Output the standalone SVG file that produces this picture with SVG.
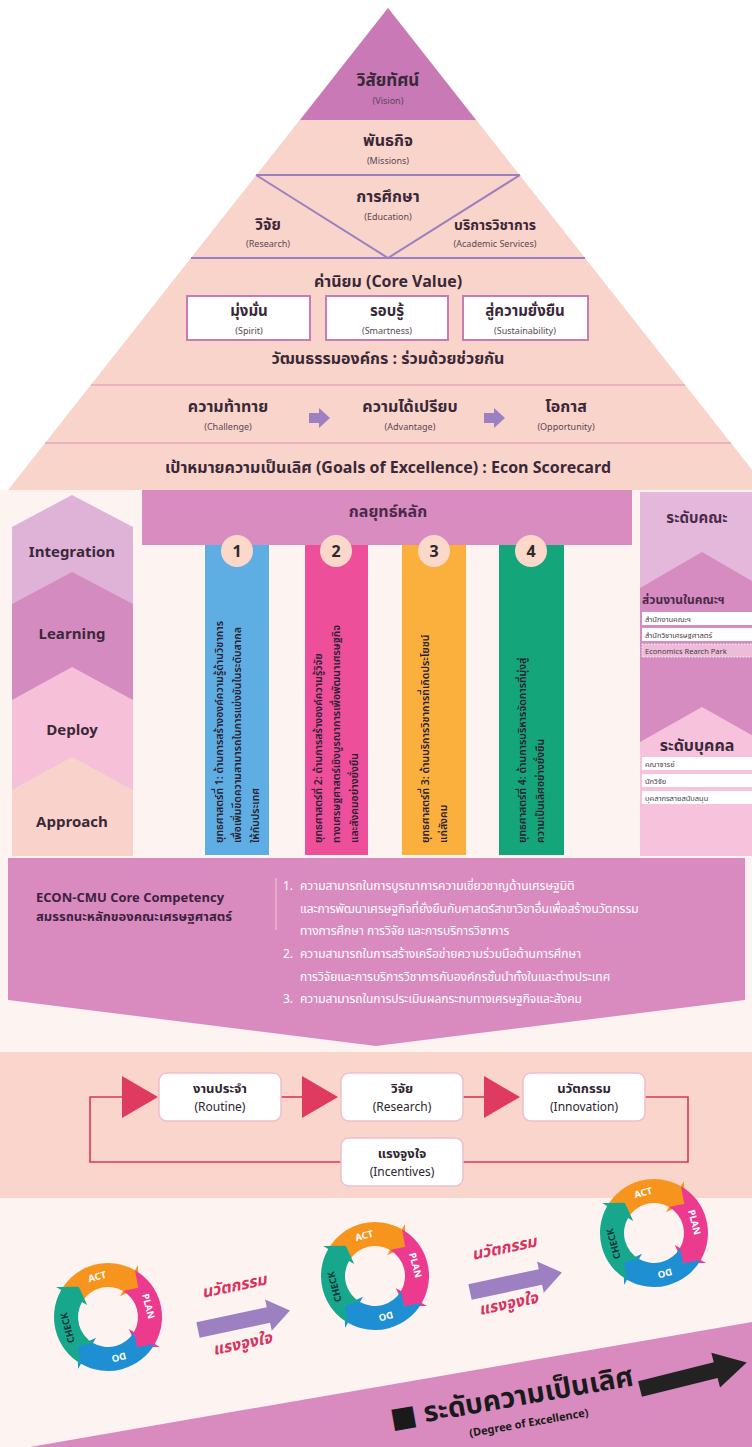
<svg xmlns="http://www.w3.org/2000/svg" width="752" height="1447" viewBox="0 0 752 1447">
<style>
text{font-family:"Noto Sans Thai","Noto Sans","DejaVu Sans",sans-serif;}
.m{text-anchor:middle;}
.b{font-weight:700;}
.dk{fill:#3a2838;}
.sub{font-size:9px;fill:#5a4656;text-anchor:middle;}
.vt{font-size:10.5px;fill:#2a2030;font-weight:600;}
.row{fill:#ffffff;}
.rt{font-size:7.5px;fill:#4a3a48;}
.cc{font-size:12px;fill:#ffffff;}
.rl{fill:none;stroke:#d8375c;stroke-width:1.6;}
.box{fill:#ffffff;stroke:#ecc0cc;stroke-width:1.5;}
.bt{font-size:13px;fill:#2e2530;font-weight:700;text-anchor:middle;}
.be{font-size:12px;fill:#2e2530;text-anchor:middle;}
.pl{font-size:9.5px;font-weight:700;text-anchor:middle;dominant-baseline:central;font-family:"Noto Sans",sans-serif;}
.inn{font-size:16px;font-weight:700;font-style:italic;fill:#d8325e;}
</style>
<defs>
<g id="ring">
<path d="M-46.77,-27 A54,54 0 0 1 27,-46.77 L30,-51.96 L30.21,-29.18 L12,-20.78 L15,-25.98 A30,30 0 0 0 -25.98,-15 L-29.18,-30.21 Z" fill="#f7941e"/>
<path d="M27,-46.77 A54,54 0 0 1 46.77,27 L51.96,30 L29.18,30.21 L20.78,12 L25.98,15 A30,30 0 0 0 15,-25.98 L30.21,-29.18 Z" fill="#ec3a8f"/>
<path d="M46.77,27 A54,54 0 0 1 -27,46.77 L-30,51.96 L-30.21,29.18 L-12,20.78 L-15,25.98 A30,30 0 0 0 25.98,15 L29.18,30.21 Z" fill="#1f8fd3"/>
<path d="M-27,46.77 A54,54 0 0 1 -46.77,-27 L-51.96,-30 L-29.18,-30.21 L-20.78,-12 L-25.98,-15 A30,30 0 0 0 -15,25.98 L-30.21,29.18 Z" fill="#17a78c"/>
<text class="pl" fill="#ffffff" transform="translate(-10.87,-40.57) rotate(-15)">ACT</text>
<text class="pl" fill="#ffffff" transform="translate(40.57,-10.87) rotate(75)">PLAN</text>
<text class="pl" fill="#ffffff" transform="translate(10.87,40.57) rotate(165)">DO</text>
<text class="pl" fill="#16363a" transform="translate(-40.57,10.87) rotate(255)">CHECK</text>
</g>
<path id="parrow" d="M0,-8 H72 V-16 L94,0 L72,16 V8 H0 Z" fill="#9c80c2"/>
</defs>

<!-- backgrounds -->
<rect x="0" y="0" width="752" height="1447" fill="#fdf4f2"/>
<rect x="0" y="0" width="752" height="490" fill="#ffffff"/>
<rect x="0" y="1052" width="752" height="146" fill="#fad5cc"/>

<!-- pyramid -->
<g id="pyramid">
<polygon points="388,8 8,490 768,490" fill="#f9d4ca"/>
<polygon points="388,8 300,120 476,120" fill="#c97ab6"/>
<line x1="256" y1="175" x2="520" y2="175" stroke="#9a80c0" stroke-width="2"/>
<polyline points="256,175 388,258 520,175" fill="none" stroke="#9a80c0" stroke-width="2"/>
<line x1="191" y1="258" x2="585" y2="258" stroke="#9a80c0" stroke-width="2"/>
<line x1="91" y1="385" x2="685" y2="385" stroke="#e9b4be" stroke-width="2"/>
<line x1="45" y1="443" x2="731" y2="443" stroke="#e9b4be" stroke-width="2"/>
</g>
<g id="vision">
<text x="388" y="86" class="m b dk" font-size="17">วิสัยทัศน์</text>
<text x="388" y="104" class="sub">(Vision)</text>
</g>
<g id="missions">
<text x="388" y="146" class="m b dk" font-size="16">พันธกิจ</text>
<text x="388" y="164" class="sub">(Missions)</text>
</g>
<g id="education">
<text x="388" y="202" class="m b dk" font-size="16">การศึกษา</text>
<text x="388" y="220" class="sub">(Education)</text>
</g>
<g id="research">
<text x="268" y="230" class="m b dk" font-size="15">วิจัย</text>
<text x="268" y="247" class="sub">(Research)</text>
</g>
<g id="services">
<text x="495" y="230" class="m b dk" font-size="14">บริการวิชาการ</text>
<text x="495" y="247" class="sub">(Academic Services)</text>
</g>
<g id="core-value">
<text x="388" y="287" class="m b dk" font-size="16">ค่านิยม (Core Value)</text>
<rect x="187" y="296" width="123" height="44" fill="#ffffff" stroke="#c77cb6" stroke-width="2"/>
<rect x="326" y="296" width="122" height="44" fill="#ffffff" stroke="#c77cb6" stroke-width="2"/>
<rect x="463" y="296" width="125" height="44" fill="#ffffff" stroke="#c77cb6" stroke-width="2"/>
<text x="249" y="316" class="m b dk" font-size="15">มุ่งมั่น</text>
<text x="249" y="334" class="sub">(Spirit)</text>
<text x="387" y="316" class="m b dk" font-size="15">รอบรู้</text>
<text x="387" y="334" class="sub">(Smartness)</text>
<text x="525" y="316" class="m b dk" font-size="15">สู่ความยั่งยืน</text>
<text x="525" y="334" class="sub">(Sustainability)</text>
<text x="388" y="364" class="m b dk" font-size="16">วัฒนธรรมองค์กร : ร่วมด้วยช่วยกัน</text>
</g>
<g id="challenge">
<text x="228" y="412" class="m b dk" font-size="16">ความท้าทาย</text>
<text x="228" y="430" class="sub">(Challenge)</text>
<text x="410" y="412" class="m b dk" font-size="16">ความได้เปรียบ</text>
<text x="410" y="430" class="sub">(Advantage)</text>
<text x="566" y="412" class="m b dk" font-size="16">โอกาส</text>
<text x="566" y="430" class="sub">(Opportunity)</text>
<path d="M309,413 H319 V408 L330,418 L319,428 V423 H309 Z" fill="#9c80c2"/>
<path d="M484,413 H494 V408 L505,418 L494,428 V423 H484 Z" fill="#9c80c2"/>
</g>
<g id="goals">
<text x="388" y="473" class="m b dk" font-size="16">เป้าหมายความเป็นเลิศ (Goals of Excellence) : Econ Scorecard</text>
</g>

<!-- left ADLI chevrons -->
<g id="adli">
<polygon points="12,527 72,495 133,527 133,856 12,856" fill="#dfb3d8"/>
<polygon points="12,604 72,572 133,604 133,856 12,856" fill="#d48bc0"/>
<polygon points="12,700 72,667 133,700 133,856 12,856" fill="#f6c0d9"/>
<polygon points="12,790 72,757 133,790 133,856 12,856" fill="#f9d3cb"/>
<text x="72" y="557" class="m b dk" font-size="15">Integration</text>
<text x="72" y="639" class="m b dk" font-size="15">Learning</text>
<text x="72" y="735" class="m b dk" font-size="15">Deploy</text>
<text x="72" y="827" class="m b dk" font-size="15">Approach</text>
</g>

<!-- strategy header -->
<g id="strategy-header">
<rect x="142" y="490" width="490" height="55" fill="#d88cbf"/>
<text x="388" y="517" class="m b" font-size="16" fill="#4a2a4a">กลยุทธ์หลัก</text>
</g>
<g id="strategy-1">
<rect x="205" y="545" width="64" height="310" fill="#5faee3"/>
<circle cx="237" cy="551" r="16" fill="#fbd8ca"/>
<text x="237" y="557" class="m b" font-size="16" fill="#2a2a2a">1</text>
<text class="vt" transform="translate(222.5,843) rotate(-90)">ยุทธศาสตร์ที่ 1: ด้านการสร้างองค์ความรู้ด้านวิชาการ</text>
<text class="vt" transform="translate(240.5,843) rotate(-90)">เพื่อเพิ่มขีดความสามารถในการแข่งขันในระดับสากล</text>
<text class="vt" transform="translate(258.5,843) rotate(-90)">ให้กับประเทศ</text>
</g>
<g id="strategy-2">
<rect x="305" y="545" width="63" height="310" fill="#ee4f9b"/>
<circle cx="336" cy="551" r="16" fill="#fbd8ca"/>
<text x="336" y="557" class="m b" font-size="16" fill="#2a2a2a">2</text>
<text class="vt" transform="translate(322,843) rotate(-90)">ยุทธศาสตร์ที่ 2: ด้านการสร้างองค์ความรู้วิจัย</text>
<text class="vt" transform="translate(340,843) rotate(-90)">ทางเศรษฐศาสตร์เชิงบูรณาการเพื่อพัฒนาเศรษฐกิจ</text>
<text class="vt" transform="translate(358,843) rotate(-90)">และสังคมอย่างยั่งยืน</text>
</g>
<g id="strategy-3">
<rect x="402" y="545" width="64" height="310" fill="#fbb03e"/>
<circle cx="434" cy="551" r="16" fill="#fbd8ca"/>
<text x="434" y="557" class="m b" font-size="16" fill="#2a2a2a">3</text>
<text class="vt" transform="translate(428.5,843) rotate(-90)">ยุทธศาสตร์ที่ 3: ด้านบริการวิชาการที่เกิดประโยชน์</text>
<text class="vt" transform="translate(446.5,843) rotate(-90)">แก่สังคม</text>
</g>
<g id="strategy-4">
<rect x="499" y="545" width="65" height="310" fill="#14a57b"/>
<circle cx="531" cy="551" r="16" fill="#fbd8ca"/>
<text x="531" y="557" class="m b" font-size="16" fill="#2a2a2a">4</text>
<text class="vt" transform="translate(526,843) rotate(-90)">ยุทธศาสตร์ที่ 4: ด้านการบริหารจัดการที่มุ่งสู่</text>
<text class="vt" transform="translate(544,843) rotate(-90)">ความเป็นเลิศอย่างยั่งยืน</text>
</g>

<!-- right panel -->
<g id="levels">
<rect x="640" y="492" width="112" height="364" fill="#e4b8da"/>
<polygon points="640,588 702,552 764,588 764,856 640,856" fill="#d68cc0"/>
<polygon points="640,742 702,707 764,742 764,856 640,856" fill="#f6c2dc"/>
<text x="697" y="523" class="m b" font-size="15" fill="#4a2a4a">ระดับคณะ</text>
<text x="642" y="604" class="b" font-size="12" fill="#4a2a4a">ส่วนงานในคณะฯ</text>
<rect x="642" y="612" width="112" height="13" class="row"/>
<text x="645" y="621.5" class="rt">สำนักงานคณะฯ</text>
<rect x="642" y="628" width="112" height="13" class="row"/>
<text x="645" y="637.5" class="rt">สำนักวิชาเศรษฐศาสตร์</text>
<rect x="642" y="644" width="112" height="13" fill="#edbcd8" stroke="#ffffff" stroke-width="0.8" stroke-dasharray="1.5,1.5"/>
<text x="645" y="653.5" class="rt">Economics Rearch Park</text>
<text x="697" y="751" class="m b" font-size="16" fill="#3a2838">ระดับบุคคล</text>
<rect x="642" y="757" width="112" height="13" class="row"/>
<text x="645" y="766.5" class="rt">คณาจารย์</text>
<rect x="642" y="774" width="112" height="13" class="row"/>
<text x="645" y="783.5" class="rt">นักวิจัย</text>
<rect x="642" y="791" width="112" height="13" class="row"/>
<text x="645" y="800.5" class="rt">บุคลากรสายสนับสนุน</text>
</g>

<!-- core competency -->
<g id="core-competency">
<polygon points="8,858 745,858 745,1000 376,1046 8,1000" fill="#d98bbf"/>
<text x="36" y="902" class="b" font-size="13" fill="#3d2240">ECON-CMU Core Competency</text>
<text x="36" y="921" class="b" font-size="13" fill="#3d2240">สมรรถนะหลักของคณะเศรษฐศาสตร์</text>
<line x1="276" y1="878" x2="276" y2="930" stroke="#f0cfe2" stroke-width="1"/>
<text x="283" y="890" class="cc">1.</text>
<text x="300" y="890" class="cc">ความสามารถในการบูรณาการความเชี่ยวชาญด้านเศรษฐมิติ</text>
<text x="300" y="913" class="cc">และการพัฒนาเศรษฐกิจที่ยั่งยืนกับศาสตร์สาขาวิชาอื่นเพื่อสร้างนวัตกรรม</text>
<text x="300" y="935" class="cc">ทางการศึกษา การวิจัย และการบริการวิชาการ</text>
<text x="283" y="958" class="cc">2.</text>
<text x="300" y="958" class="cc">ความสามารถในการสร้างเครือข่ายความร่วมมือด้านการศึกษา</text>
<text x="300" y="981" class="cc">การวิจัยและการบริการวิชาการกับองค์กรชั้นนำทั้งในและต่างประเทศ</text>
<text x="283" y="1003" class="cc">3.</text>
<text x="300" y="1003" class="cc">ความสามารถในการประเมินผลกระทบทางเศรษฐกิจและสังคม</text>
</g>

<!-- routine cycle connectors -->
<g id="connectors">
<path class="rl" d="M281,1097 H302"/>
<path class="rl" d="M463,1097 H484"/>
<path class="rl" d="M645,1097 H688 V1162 H463"/>
<path class="rl" d="M341,1162 H90 V1097 H122"/>
<polygon points="122,1076 158,1097 122,1118" fill="#df3a5f"/>
<polygon points="302,1076 338,1097 302,1118" fill="#df3a5f"/>
<polygon points="484,1076 520,1097 484,1118" fill="#df3a5f"/>
</g>
<g id="routine">
<rect x="159" y="1073" width="122" height="48" rx="8" class="box"/>
<text x="220" y="1093" class="bt">งานประจำ</text>
<text x="220" y="1111" class="be">(Routine)</text>
</g>
<g id="research-node">
<rect x="341" y="1073" width="122" height="48" rx="8" class="box"/>
<text x="402" y="1093" class="bt">วิจัย</text>
<text x="402" y="1111" class="be">(Research)</text>
</g>
<g id="innovation">
<rect x="523" y="1073" width="122" height="48" rx="8" class="box"/>
<text x="584" y="1093" class="bt">นวัตกรรม</text>
<text x="584" y="1111" class="be">(Innovation)</text>
</g>
<g id="incentives">
<rect x="341" y="1138" width="122" height="48" rx="8" class="box"/>
<text x="402" y="1158" class="bt">แรงจูงใจ</text>
<text x="402" y="1176" class="be">(Incentives)</text>
</g>

<!-- degree of excellence -->
<g id="degree">
<polygon points="30,1447 752,1322 752,1447" fill="#d98bbf"/>
<text transform="translate(392,1428) rotate(-10)" class="b" font-size="28" fill="#1a1a1a">■ ระดับความเป็นเลิศ</text>
<text transform="translate(470,1437) rotate(-10)" class="b" font-size="11" fill="#1a1a1a">(Degree of Excellence)</text>
<path d="M0,-8 H78 V-18 L110,0 L78,18 V8 H0 Z" fill="#222222" transform="translate(640,1389) rotate(-14)"/>
</g>

<!-- PDCA -->
<g id="pdca-1"><use href="#ring" transform="translate(108,1317)"/></g>
<g id="pdca-2"><use href="#ring" transform="translate(375,1276)"/></g>
<g id="pdca-3"><use href="#ring" transform="translate(654,1233)"/></g>
<g id="step-1">
<use href="#parrow" transform="translate(198,1330) rotate(-12)"/>
<text class="inn" transform="translate(203,1298) rotate(-12)">นวัตกรรม</text>
<text class="inn" transform="translate(214,1355) rotate(-12)">แรงจูงใจ</text>
</g>
<g id="step-2">
<use href="#parrow" transform="translate(470,1292) rotate(-12)"/>
<text class="inn" transform="translate(473,1260) rotate(-12)">นวัตกรรม</text>
<text class="inn" transform="translate(480,1315) rotate(-12)">แรงจูงใจ</text>
</g>
</svg>
